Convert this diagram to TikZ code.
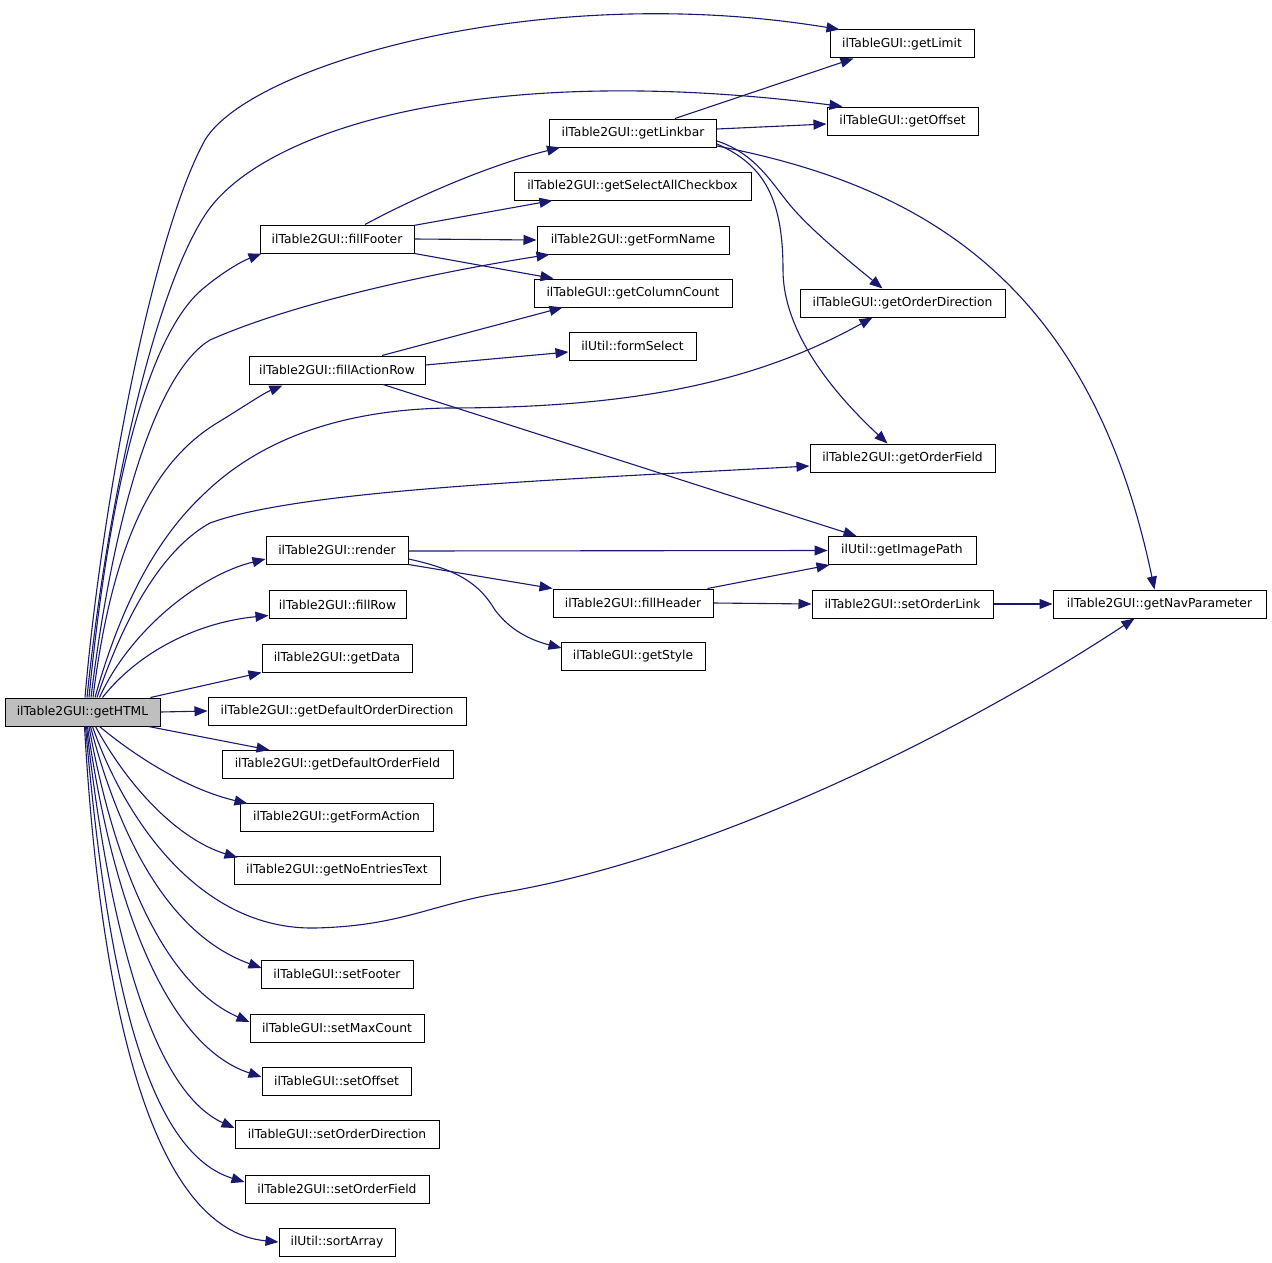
\documentclass[tikz,border=0pt]{standalone}
\usepackage{fontspec}
\setmainfont{DejaVu Sans}
\usetikzlibrary{arrows.meta,calc}
\definecolor{edgecol}{HTML}{191970}
\definecolor{boxgray}{HTML}{BFBFBF}
\begin{document}
\begin{tikzpicture}[x=1pt,y=-1pt,
  box/.style={draw=black,line width=1pt,minimum height=28pt,inner sep=0pt,
    font=\fontsize{12.3}{14}\selectfont,fill=white},
  e/.style={draw=edgecol,line width=1.1pt,-{Triangle[length=13pt,width=10pt]}},
]
\useasboundingbox (0,0) rectangle (1272,1263);
\fill[white] (0,0) rectangle (1272,1263);

% nodes
\node[box,fill=boxgray,minimum width=155pt] (html) at (82.5,712) {ilTable2GUI::getHTML};
\node[box,minimum width=144pt] (lim) at (902,44) {ilTableGUI::getLimit};
\node[box,minimum width=151pt] (off) at (902.5,121) {ilTableGUI::getOffset};
\node[box,minimum width=167pt] (link) at (633,133) {ilTable2GUI::getLinkbar};
\node[box,minimum width=237pt] (sel) at (632.5,186) {ilTable2GUI::getSelectAllCheckbox};
\node[box,minimum width=192pt] (form) at (633,240) {ilTable2GUI::getFormName};
\node[box,minimum width=198pt] (col) at (633,293) {ilTableGUI::getColumnCount};
\node[box,minimum width=154pt] (foot) at (337,239) {ilTable2GUI::fillFooter};
\node[box,minimum width=205pt] (odir) at (902.5,303) {ilTableGUI::getOrderDirection};
\node[box,minimum width=127pt] (fsel) at (632.5,346) {ilUtil::formSelect};
\node[box,minimum width=176pt] (arow) at (337,370) {ilTable2GUI::fillActionRow};
\node[box,minimum width=185pt] (ofld) at (902.5,458) {ilTable2GUI::getOrderField};
\node[box,minimum width=148pt] (img) at (902,550.5) {ilUtil::getImagePath};
\node[box,minimum width=142pt] (rend) at (337,550) {ilTable2GUI::render};
\node[box,minimum width=160pt] (fhdr) at (633,603) {ilTable2GUI::fillHeader};
\node[box,minimum width=181pt] (sol) at (902.5,604) {ilTable2GUI::setOrderLink};
\node[box,minimum width=213pt] (nav) at (1159.5,604) {ilTable2GUI::getNavParameter};
\node[box,minimum width=144pt] (sty) at (633,656) {ilTableGUI::getStyle};
\node[box,minimum width=137pt] (frow) at (337.5,604.5) {ilTable2GUI::fillRow};
\node[box,minimum width=150pt] (data) at (337,658) {ilTable2GUI::getData};
\node[box,minimum width=258pt] (dod) at (337,711) {ilTable2GUI::getDefaultOrderDirection};
\node[box,minimum width=231pt] (dof) at (337.5,764.5) {ilTable2GUI::getDefaultOrderField};
\node[box,minimum width=193pt] (fact) at (336.5,817) {ilTable2GUI::getFormAction};
\node[box,minimum width=206pt] (noent) at (337,870) {ilTable2GUI::getNoEntriesText};
\node[box,minimum width=152pt] (sfoot) at (337,974) {ilTableGUI::setFooter};
\node[box,minimum width=174pt] (smax) at (337,1028) {ilTableGUI::setMaxCount};
\node[box,minimum width=149pt] (soff) at (336.5,1081) {ilTableGUI::setOffset};
\node[box,minimum width=204pt] (sodir) at (337,1134) {ilTableGUI::setOrderDirection};
\node[box,minimum width=184pt] (sofld) at (337,1189) {ilTable2GUI::setOrderField};
\node[box,minimum width=116pt] (sort) at (337,1242) {ilUtil::sortArray};

% edges from getHTML (upwards)
\draw[e] ($(html.north)+(2.5,0)$) .. controls (100,520) and (150,240) .. (205,140)
  .. controls (250,65) and (540,-20) .. ($(lim.north west)+(10,0)$);
\draw[e] ($(html.north)+(4.5,0)$) .. controls (105,520) and (150,300) .. (205,215)
  .. controls (260,130) and (480,60) .. ($(off.north west)+(16,0)$);
\draw[e] ($(html.north)+(6.5,0)$) .. controls (110,480) and (150,330) .. (205,287)
  .. controls (222,273) and (240,262) .. ($(foot.south west)+(2,0)$);
\draw[e] ($(html.north)+(8.5,0)$) .. controls (115,500) and (160,370) .. (210,340)
  .. controls (300,300) and (450,270) .. ($(form.south west)+(13,0)$);
\draw[e] ($(html.north)+(10.5,0)$) .. controls (115,520) and (165,455) .. (217,423)
  .. controls (245,406) and (262,394) .. ($(arow.south west)+(34,1)$);
\draw[e] ($(html.north)+(12.5,0)$) .. controls (125,590) and (165,530) .. (205,493)
  .. controls (260,440) and (340,410) .. (447,408)
  .. controls (640,408) and (760,380) .. ($(odir.south west)+(73,0)$);
\draw[e] ($(html.north)+(14.5,0)$) .. controls (130,600) and (170,545) .. (210,523)
  .. controls (300,490) and (550,480) .. ($(ofld.west)+(0,8)$);
\draw[e] ($(html.north)+(17,0)$) .. controls (130,630) and (200,575) .. ($(rend.west)+(0,9)$);
\draw[e] ($(html.north)+(20,0)$) .. controls (140,650) and (200,622) .. ($(frow.west)+(0,11)$);
\draw[e] ($(html.north east)+(-10,0)$) -- (data.south west);
\draw[e] (html.east) -- (dod.west);
% edges from getHTML (downwards)
\draw[e] ($(html.south east)+(-12,0)$) -- ($(dof.north west)+(48,0)$);
\draw[e] ($(html.south)+(17,0)$) .. controls (140,760) and (190,790) .. ($(fact.north west)+(8,1)$);
\draw[e] ($(html.south)+(13,0)$) .. controls (130,790) and (180,840) .. ($(noent.north west)+(4,2)$);
\draw[e] ($(html.south)+(10,0)$) .. controls (125,820) and (200,930) .. (315,928)
  .. controls (400,926) and (430,905) .. (500,893)
  .. controls (700,860) and (950,740) .. ($(nav.south west)+(82,0)$);
\draw[e] ($(html.south)+(8,0)$) .. controls (120,840) and (170,935) .. ($(sfoot.west)+(1,-6)$);
\draw[e] ($(html.south)+(6.5,0)$) .. controls (115,870) and (165,985) .. ($(smax.west)+(0,-6)$);
\draw[e] ($(html.south)+(5,0)$) .. controls (112,900) and (165,1045) .. ($(soff.west)+(0,-4)$);
\draw[e] ($(html.south)+(4,0)$) .. controls (108,920) and (150,1090) .. ($(sodir.west)+(0,-6)$);
\draw[e] ($(html.south)+(3,0)$) .. controls (105,950) and (140,1150) .. ($(sofld.west)+(0,-7)$);
\draw[e] ($(html.south)+(2,0)$) .. controls (100,1000) and (150,1230) .. (sort.west);

% fillFooter
\draw[e] ($(foot.north)+(28,0)$) .. controls (420,195) and (490,165) .. ($(link.south west)+(11,0)$);
\draw[e] ($(foot.north east)+(-1,1)$) -- ($(sel.south west)+(39,0)$);
\draw[e] (foot.east) -- (form.west);
\draw[e] (foot.south east) -- ($(col.north west)+(20,0)$);

% fillActionRow
\draw[e] ($(arow.north)+(45,0)$) -- ($(col.south west)+(29,0)$);
\draw[e] ($(arow.east)+(0,-5)$) -- ($(fsel.west)+(0,6)$);
\draw[e] ($(arow.south)+(46,0)$) -- ($(img.north west)+(29,0)$);

% getLinkbar
\draw[e] ($(link.north)+(42,0)$) -- ($(lim.south west)+(24,0)$);
\draw[e] ($(link.east)+(0,-4)$) -- ($(off.west)+(0,3)$);
\draw[e] ($(link.east)+(0,8)$) .. controls (760,155) and (775,190) .. (797,213)
  .. controls (820,238) and (860,270) .. ($(odir.north west)+(83,0)$);
\draw[e] ($(link.east)+(0,11)$) .. controls (765,165) and (783,200) .. (783,270)
  .. controls (783,330) and (830,390) .. ($(ofld.north west)+(78,0)$);
\draw[e] ($(link.east)+(0,13)$) .. controls (920,185) and (1090,280) .. ($(nav.north west)+(102,0)$);

% render
\draw[e] ($(rend.east)+(0,1)$) -- (img.west);
\draw[e] (rend.south east) -- (fhdr.north west);
\draw[e] ($(rend.east)+(0,9)$) .. controls (460,570) and (480,585) .. (495,610)
  .. controls (510,630) and (530,640) .. ($(sty.west)+(1,-8)$);

% fillHeader
\draw[e] ($(fhdr.north east)+(-6,0)$) -- ($(img.south west)+(2,0)$);
\draw[e] (fhdr.east) -- (sol.west);

% setOrderLink
\draw[e] (sol.east) -- (nav.west);
\end{tikzpicture}
\end{document}
